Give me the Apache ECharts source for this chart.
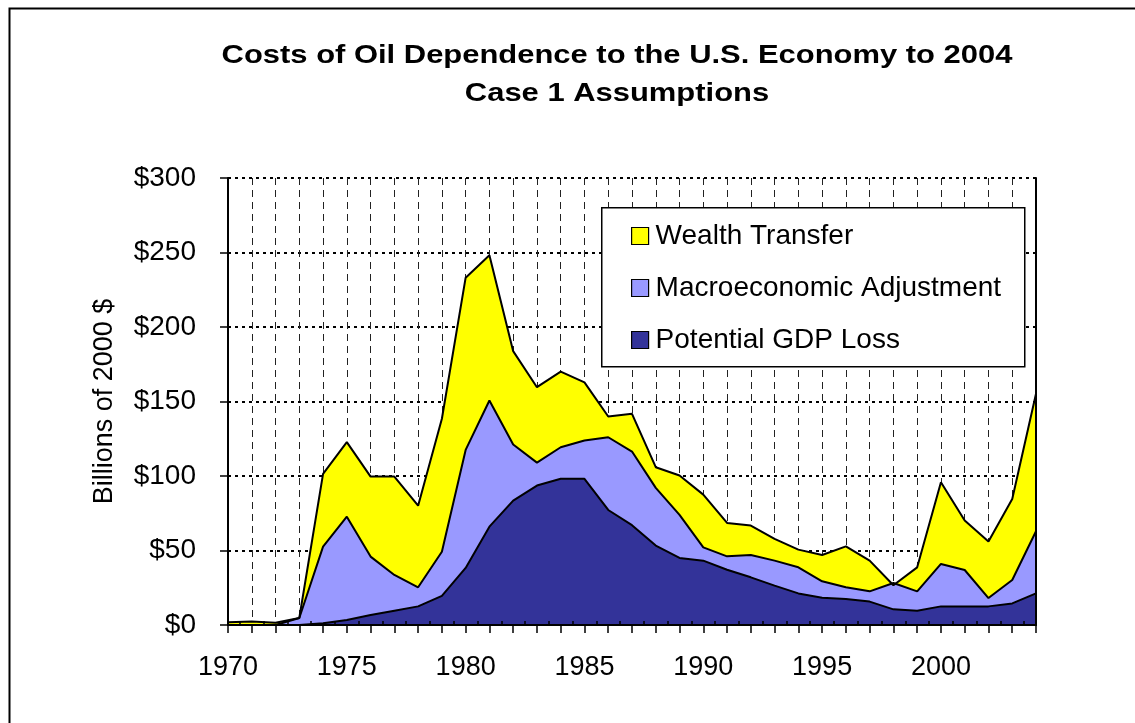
<!DOCTYPE html>
<html>
<head>
<meta charset="utf-8">
<script src="https://cdn.jsdelivr.net/npm/echarts@6/dist/echarts.min.js"></script>
<style>
html,body{margin:0;padding:0;background:#fff;}
#chart{width:1135px;height:723px;}
</style>
</head>
<body>
<div id="chart"></div>
<script>
const years = [1970,1971,1972,1973,1974,1975,1976,1977,1978,1979,
  1980,1981,1982,1983,1984,1985,1986,1987,1988,1989,
  1990,1991,1992,1993,1994,1995,1996,1997,1998,1999,
  2000,2001,2002,2003,2004];
const potentialGDPLoss = [0,0,0,0,1.1,3.4,6.7,9.6,12.5,19.5,
  38.3,66.0,83.5,93.6,98.1,98.1,77.2,67.0,53.3,45.0,
  43.2,37.1,32.0,26.4,21.2,18.3,17.5,15.7,10.5,9.6,
  12.5,12.5,12.5,14.5,21.2];
const macroAdjustment = [0,0,0,4.7,51.5,69.3,39.2,24.0,12.8,29.7,
  79.2,84.7,37.6,15.4,21.2,25.7,48.8,49.4,38.7,28.9,
  8.9,9.0,15.0,16.8,17.5,11.0,7.8,6.9,17.7,13.0,
  28.5,24.4,5.6,15.7,41.7];
const wealthTransfer = [1.8,2.4,1.5,0,48.8,50.0,53.7,66.0,54.8,89.2,
  115.6,97.4,62.7,50.6,50.8,39.0,13.9,25.3,13.9,26.4,
  35.4,22.4,19.7,14.6,11.9,17.7,27.5,20.6,-1.5,16.1,
  54.8,33.2,37.9,54.4,92.3];
const yTicks = [0,50,100,150,200,250,300];
const seriesNames = ['Potential GDP Loss','Macroeconomic Adjustment','Wealth Transfer'];
const legendOrder = ['Wealth Transfer','Macroeconomic Adjustment','Potential GDP Loss'];
const titleLines = ['Costs of Oil Dependence to the U.S. Economy to 2004','Case 1 Assumptions'];
const yName = 'Billions of 2000 $';

const halfYears = years.slice(0, -1).map(y => y + 0.5);
const colors = ['#333399','#9999FF','#FFFF00'];
const FONT = 'Liberation Sans, Arial, sans-serif';
const allVals = [potentialGDPLoss, macroAdjustment, wealthTransfer];
const yMin = yTicks[0], yMax = yTicks[yTicks.length-1], yStep = yTicks[1]-yTicks[0];
const xMin = years[0], xMax = years[years.length-1];

const chart = echarts.init(document.getElementById('chart'), null, {renderer:'canvas'});
const option = {
  animation:false,
  backgroundColor:'#fff',
  textStyle:{fontFamily:FONT},
  graphic:[
    {type:'rect', left:7, top:6, shape:{width:1300,height:900}, style:{fill:'none',stroke:'#000',lineWidth:2}, z:-10},
    {type:'text', x:617, y:56, scaleX:1.19, style:{text:titleLines[0], font:'bold 26px '+FONT, fill:'#000', textAlign:'center', textVerticalAlign:'middle'}},
    {type:'text', x:617, y:94, scaleX:1.19, style:{text:titleLines[1], font:'bold 26px '+FONT, fill:'#000', textAlign:'center', textVerticalAlign:'middle'}},
    {type:'rect', left:601, top:207, shape:{width:423,height:159}, style:{fill:'#fff',stroke:'#000',lineWidth:1.5}, z:50}
  ],
  legend:{
    data:legendOrder,
    orient:'vertical',
    left:626, top:216,
    itemWidth:17, itemHeight:17,
    itemGap:22,
    icon:'rect',
    itemStyle:{borderColor:'#000',borderWidth:1.2},
    textStyle:{fontSize:28, fontFamily:FONT, color:'#000', lineHeight:30, padding:[0,0,0,2]},
    z:60
  },
  grid:{left:228, top:178, right:99, bottom:98, containLabel:false},
  xAxis:[{
    type:'category', data:years.map(String), boundaryGap:false,
    position:'bottom',
    axisLine:{show:true, onZero:false, lineStyle:{color:'#000',width:2}},
    axisTick:{show:true, interval:0, length:8, inside:false, lineStyle:{color:'#000',width:1.5}},
    axisLabel:{fontSize:27, color:'#000', margin:29, fontFamily:FONT,
      interval:(idx, val) => (Number(val) % 5 === 0)},
    splitLine:{show:false},
    z:10
  },{
    type:'value', min:xMin, max:xMax, position:'bottom',
    axisLine:{show:false},
    axisTick:{show:true, inside:true, length:4, customValues:halfYears, lineStyle:{color:'#000',width:1.5}},
    axisLabel:{show:false},
    splitLine:{show:false},
    z:10
  },{
    type:'value', min:xMin, max:xMax, position:'top',
    axisLine:{show:true, lineStyle:{color:'#000',width:2}},
    axisTick:{show:false}, axisLabel:{show:false}, splitLine:{show:false}, z:10
  },{
    type:'value', min:xMin, max:xMax, interval:1, position:'bottom',
    axisLine:{show:false}, axisTick:{show:false}, axisLabel:{show:false},
    splitLine:{show:true, lineStyle:{color:'#222', width:1, type:[7,5]}},
    z:0
  }],
  yAxis:[{
    type:'value', min:yMin, max:yMax, interval:yStep, position:'left',
    name:yName, nameLocation:'middle', nameGap:110,
    nameTextStyle:{fontSize:27, color:'#000', fontFamily:FONT},
    axisLine:{show:true, lineStyle:{color:'#000',width:2}},
    axisTick:{show:true, length:8, lineStyle:{color:'#000',width:1.5}},
    axisLabel:{fontSize:28, color:'#000', margin:32, fontFamily:FONT,
      formatter:v => '$' + v},
    splitLine:{show:false},
    z:10
  },{
    type:'value', min:yMin, max:yMax, position:'right',
    axisLine:{show:true, lineStyle:{color:'#000',width:2}},
    axisTick:{show:false}, axisLabel:{show:false}, splitLine:{show:false}, z:10
  },{
    type:'value', min:yMin, max:yMax, interval:yStep, position:'left',
    axisLine:{show:false}, axisTick:{show:false}, axisLabel:{show:false},
    splitLine:{show:true, lineStyle:{color:'#000', width:2, type:[3,4]}},
    z:0
  }],
  series: seriesNames.map((name,i)=>({
    name:name,
    type:'line',
    stack:'total',
    stackStrategy:'all',
    xAxisIndex:0, yAxisIndex:0,
    data:allVals[i],
    symbol:'none',
    showSymbol:false,
    smooth:false,
    color:colors[i],
    lineStyle:{color:'#000', width:2},
    areaStyle:{color:colors[i], opacity:1},
    itemStyle:{color:colors[i], borderColor:'#000', borderWidth:1.2},
    z:2
  }))
};
chart.setOption(option);
</script>
</body>
</html>
